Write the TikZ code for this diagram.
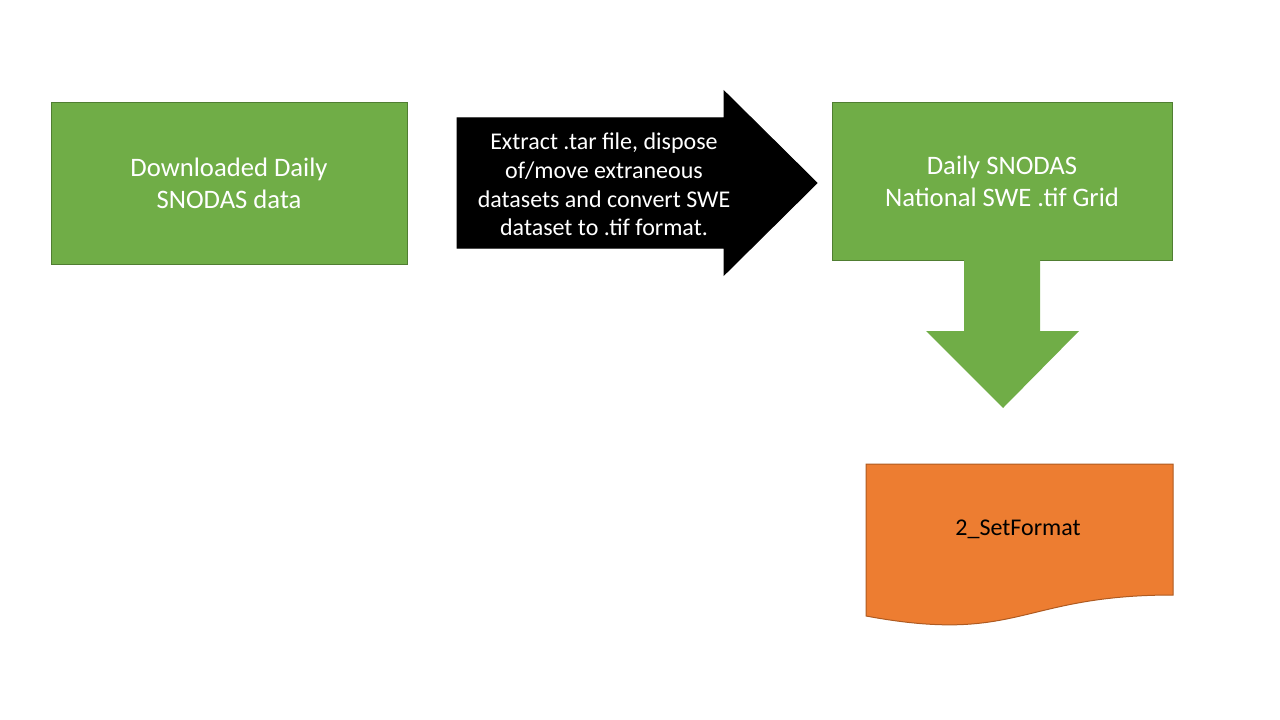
\documentclass[tikz,border=0pt]{standalone}
\usepackage{fontspec}
\setmainfont{Carlito}
\definecolor{boxgreen}{RGB}{112,173,71}
\definecolor{boxgreenline}{RGB}{80,126,50}
\definecolor{docorange}{RGB}{237,125,49}
\definecolor{docorangeline}{RGB}{174,90,33}
\begin{document}
\begin{tikzpicture}[x=0.75pt,y=-0.75pt,line width=0.75pt,
	greenbox/.style={draw=boxgreenline,fill=boxgreen,text=white,align=center,inner sep=0pt,font=\fontsize{20}{24}\selectfont},
	arrowtext/.style={text=white,align=center,inner sep=0pt,font=\fontsize{18}{21.6}\selectfont},
	doctext/.style={text=black,align=center,inner sep=0pt,font=\fontsize{18}{21.6}\selectfont}]
	\useasboundingbox (0,0) rectangle (1280,720);

	%boxes
	\node[greenbox,minimum width=267pt,minimum height=120.75pt] (download) at (229,183.5) {Downloaded Daily\\SNODAS data}; %input data
	\node[greenbox,minimum width=255pt,minimum height=117.75pt] (grid) at (1002,181.5) {Daily SNODAS\\National SWE .tif Grid}; %tif grid

	%block arrow
	\draw[fill=black] (457,118) -- (724,118) -- (724,91) -- (817,183) -- (724,275) -- (724,248) -- (457,248) -- cycle; %extract arrow
	\node[arrowtext] (extract) at (604,184.5) {Extract .tar file, dispose\\of/move extraneous\\datasets and convert SWE\\dataset to .tif format.}; %extract label

	%down arrow
	\fill[boxgreen] (964,260) -- (1040,260) -- (1040,331) -- (1079,331) -- (1003,408) -- (926,331) -- (964,331) -- cycle; %grid arrow

	%document
	\draw[draw=docorangeline,fill=docorange] (866,464) -- (1173,464) -- (1173,595)
	  .. controls (1019.5,595) and (1019.5,644.5) .. (866,616) -- cycle; %script
	\node[doctext] (setformat) at (1018,529) {2\_SetFormat}; %script label

\end{tikzpicture}
\end{document}
